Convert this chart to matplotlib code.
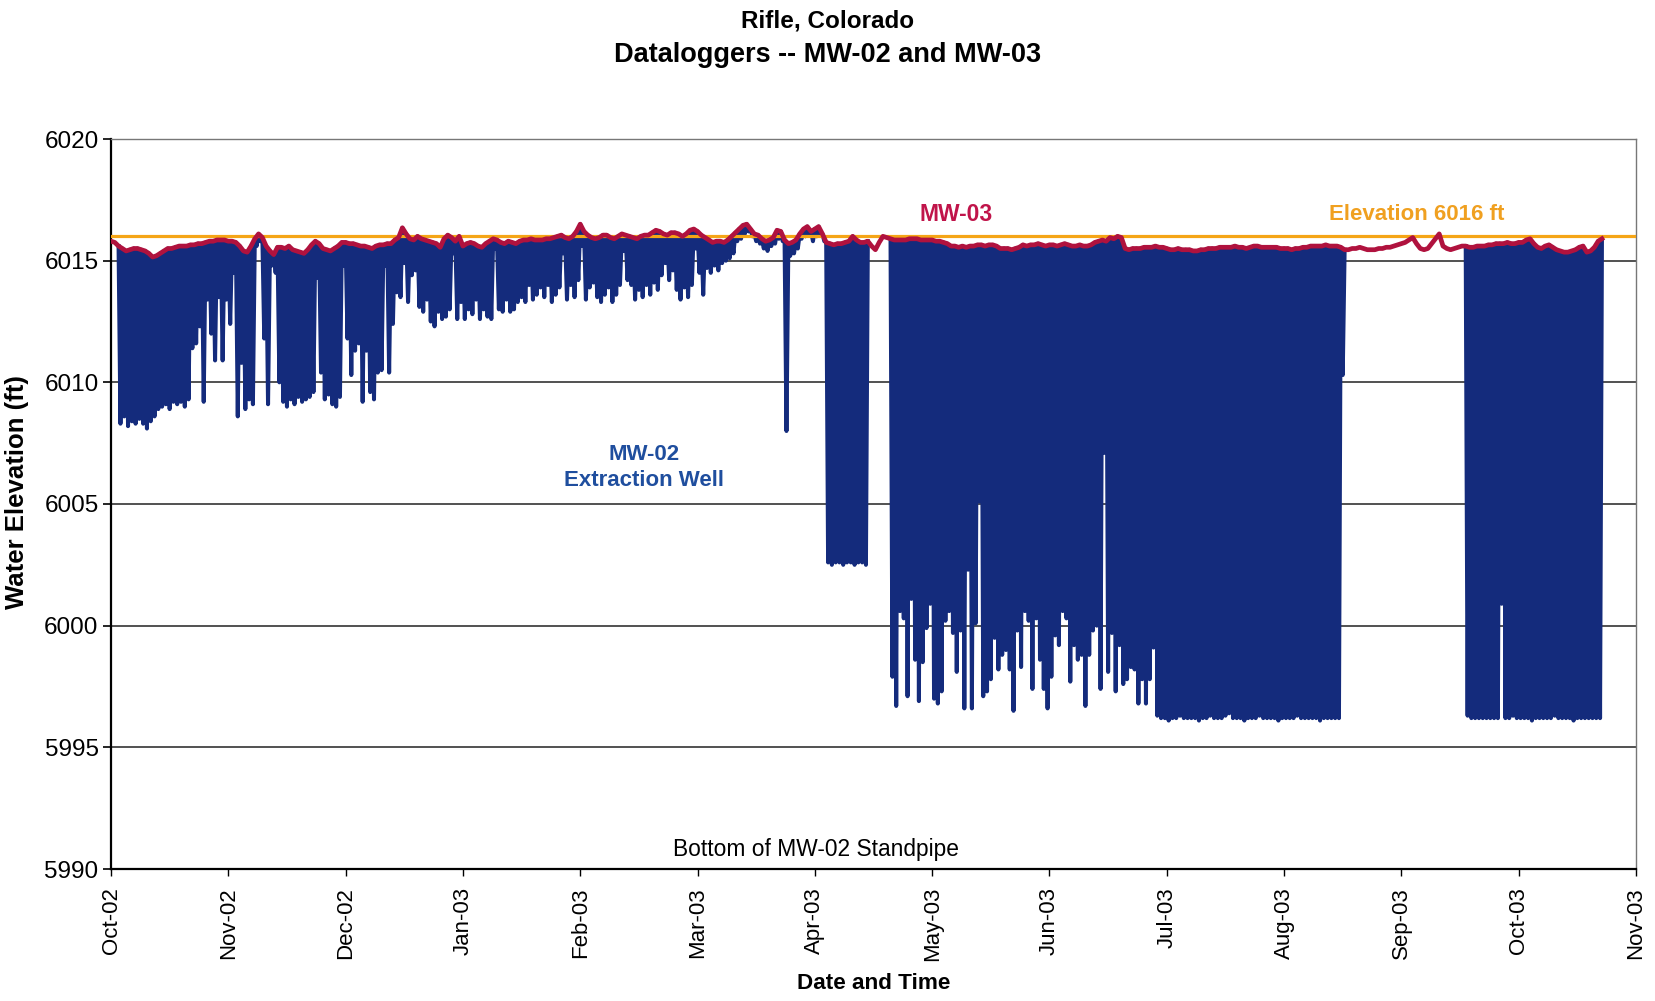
import numpy as np
import matplotlib
matplotlib.use("Agg")
import matplotlib.pyplot as plt
import matplotlib.dates as mdates

plt.rcParams['font.family'] = ['Liberation Sans', 'DejaVu Sans']

nan = np.nan

# ---------------- data ----------------
start_date = np.datetime64('2002-10-01')
tick_step_days = 31
tick_labels = ['Oct-02', 'Nov-02', 'Dec-02', 'Jan-03', 'Feb-03', 'Mar-03', 'Apr-03',
               'May-03', 'Jun-03', 'Jul-03', 'Aug-03', 'Sep-03', 'Oct-03', 'Nov-03']
y_ticks = [5990, 5995, 6000, 6005, 6010, 6015, 6020]
reference_elevation = 6016

# MW-03 daily water elevation (ft), day 0 = 1 Oct 2002
mw03_level = [
    6015.8, 6015.75, 6015.6, 6015.5, 6015.4, 6015.45, 6015.5, 6015.5, 6015.45, 6015.4,
    6015.3, 6015.15, 6015.2, 6015.3, 6015.4, 6015.5, 6015.5, 6015.55, 6015.6, 6015.6,
    6015.6, 6015.65, 6015.65, 6015.7, 6015.7, 6015.75, 6015.8, 6015.8, 6015.85, 6015.85,
    6015.85, 6015.8, 6015.8, 6015.75, 6015.6, 6015.4, 6015.35, 6015.6, 6015.9, 6016.1,
    6015.95, 6015.6, 6015.4, 6015.25, 6015.55, 6015.55, 6015.5, 6015.6, 6015.45, 6015.4,
    6015.35, 6015.3, 6015.45, 6015.65, 6015.8, 6015.7, 6015.5, 6015.45, 6015.4, 6015.5,
    6015.6, 6015.75, 6015.75, 6015.7, 6015.7, 6015.65, 6015.6, 6015.6, 6015.55, 6015.5,
    6015.6, 6015.65, 6015.65, 6015.7, 6015.7, 6015.85, 6015.95, 6016.35, 6016.1, 6015.9,
    6015.85, 6016.0, 6015.9, 6015.85, 6015.8, 6015.75, 6015.7, 6015.55, 6015.9, 6016.05,
    6015.95, 6015.8, 6016.0, 6015.6, 6015.7, 6015.75, 6015.7, 6015.6, 6015.55, 6015.7,
    6015.8, 6015.9, 6015.85, 6015.75, 6015.7, 6015.8, 6015.75, 6015.7, 6015.8, 6015.85,
    6015.85, 6015.9, 6015.85, 6015.85, 6015.85, 6015.9, 6015.9, 6015.95, 6016.0, 6016.05,
    6015.95, 6015.9, 6016.0, 6016.2, 6016.5, 6016.2, 6016.05, 6015.95, 6015.9, 6015.95,
    6016.05, 6016.05, 6015.95, 6015.9, 6016.0, 6016.1, 6016.05, 6016.0, 6015.95, 6015.9,
    6016.0, 6016.05, 6016.05, 6016.15, 6016.25, 6016.2, 6016.1, 6016.05, 6016.15, 6016.15,
    6016.1, 6016.0, 6016.1, 6016.25, 6016.3, 6016.2, 6016.05, 6015.95, 6015.85, 6015.75,
    6015.8, 6015.8, 6015.75, 6015.85, 6016.0, 6016.15, 6016.3, 6016.45, 6016.5, 6016.3,
    6016.1, 6016.05, 6015.9, 6015.8, 6015.85, 6015.95, 6016.25, 6016.2, 6015.85, 6015.7,
    6015.75, 6015.85, 6016.1, 6016.3, 6016.4, 6016.2, 6016.3, 6016.4, 6016.1, 6015.75,
    6015.7, 6015.65, 6015.7, 6015.7, 6015.75, 6015.8, 6016.0, 6015.85, 6015.75, 6015.75,
    6015.8, 6015.6, 6015.45, 6015.75, 6016.0, 6015.95, 6015.9, 6015.85, 6015.85, 6015.85,
    6015.85, 6015.9, 6015.9, 6015.9, 6015.85, 6015.85, 6015.85, 6015.85, 6015.8, 6015.8,
    6015.75, 6015.7, 6015.6, 6015.6, 6015.55, 6015.6, 6015.55, 6015.6, 6015.6, 6015.65,
    6015.65, 6015.6, 6015.65, 6015.65, 6015.6, 6015.5, 6015.5, 6015.5, 6015.45, 6015.5,
    6015.55, 6015.65, 6015.6, 6015.65, 6015.65, 6015.7, 6015.65, 6015.6, 6015.65, 6015.65,
    6015.6, 6015.65, 6015.7, 6015.65, 6015.6, 6015.6, 6015.65, 6015.6, 6015.6, 6015.65,
    6015.75, 6015.8, 6015.85, 6015.8, 6015.95, 6015.9, 6016.0, 6015.95, 6015.5, 6015.45,
    6015.5, 6015.5, 6015.5, 6015.55, 6015.55, 6015.55, 6015.6, 6015.55, 6015.55, 6015.5,
    6015.45, 6015.45, 6015.5, 6015.45, 6015.45, 6015.45, 6015.4, 6015.4, 6015.45, 6015.45,
    6015.5, 6015.5, 6015.5, 6015.55, 6015.55, 6015.55, 6015.55, 6015.6, 6015.55, 6015.55,
    6015.5, 6015.55, 6015.6, 6015.6, 6015.55, 6015.55, 6015.55, 6015.55, 6015.55, 6015.5,
    6015.5, 6015.5, 6015.45, 6015.5, 6015.5, 6015.55, 6015.55, 6015.6, 6015.6, 6015.6,
    6015.6, 6015.65, 6015.6, 6015.6, 6015.6, 6015.55, 6015.45, 6015.45, 6015.5, 6015.5,
    6015.55, 6015.5, 6015.45, 6015.45, 6015.45, 6015.5, 6015.5, 6015.55, 6015.55, 6015.6,
    6015.65, 6015.7, 6015.75, 6015.85, 6015.95, 6015.7, 6015.5, 6015.45, 6015.5, 6015.7,
    6015.9, 6016.1, 6015.6, 6015.5, 6015.45, 6015.5, 6015.55, 6015.6, 6015.6, 6015.55,
    6015.55, 6015.6, 6015.6, 6015.6, 6015.65, 6015.65, 6015.7, 6015.7, 6015.7, 6015.75,
    6015.7, 6015.7, 6015.75, 6015.75, 6015.85, 6015.9, 6015.7, 6015.55, 6015.5, 6015.6,
    6015.65, 6015.55, 6015.45, 6015.4, 6015.35, 6015.35, 6015.4, 6015.45, 6015.55, 6015.6,
    6015.35, 6015.4, 6015.55, 6015.8, 6015.9,
]

# MW-02 daily drawdown minimum (ft); peaks recover to the MW-03 level; nan = no record
mw02_low = [
    nan, nan, 6008.3, 6008.6, 6008.2, 6008.4, 6008.3, 6008.5, 6008.3, 6008.1,
    6008.4, 6008.6, 6008.9, 6009.0, 6009.1, 6008.9, 6009.2, 6009.1, 6009.2, 6009.0,
    6009.3, 6011.4, 6011.6, 6012.3, 6009.2, 6013.4, 6012.0, 6010.9, 6013.5, 6010.9,
    6013.4, 6012.4, 6014.5, 6008.6, 6010.8, 6008.9, 6009.3, 6009.1, 6015.6, 6015.8,
    6011.8, 6009.1, 6014.8, 6014.5, 6010.0, 6009.2, 6009.0, 6009.3, 6009.1, 6009.4,
    6009.2, 6009.3, 6009.4, 6009.6, 6014.3, 6010.4, 6009.3, 6009.5, 6009.1, 6009.0,
    6009.4, 6014.8, 6011.8, 6010.3, 6011.3, 6011.6, 6009.2, 6011.3, 6009.6, 6009.3,
    6010.4, 6010.5, 6014.8, 6010.4, 6012.4, 6013.7, 6013.5, 6014.9, 6013.3, 6014.4,
    6014.6, 6013.1, 6012.9, 6013.4, 6012.5, 6012.3, 6012.9, 6012.6, 6012.7, 6013.0,
    6015.3, 6012.6, 6013.3, 6012.6, 6013.0, 6012.8, 6013.4, 6012.6, 6013.0, 6012.7,
    6012.6, 6015.5, 6013.0, 6012.9, 6013.4, 6012.9, 6013.0, 6013.3, 6013.5, 6013.3,
    6014.0, 6013.4, 6013.6, 6013.9, 6013.5, 6014.0, 6013.3, 6013.6, 6013.9, 6015.3,
    6013.4, 6014.0, 6013.5, 6014.2, 6015.6, 6013.4, 6013.9, 6014.1, 6013.5, 6013.3,
    6013.6, 6013.9, 6013.3, 6013.6, 6014.0, 6015.4, 6014.2, 6014.0, 6013.4, 6013.8,
    6013.5, 6014.0, 6013.6, 6014.1, 6013.8, 6014.4, 6014.9, 6014.2, 6014.6, 6013.8,
    6013.4, 6013.9, 6013.5, 6014.0, 6015.5, 6014.5, 6013.6, 6014.7, 6014.5, 6014.8,
    6014.6, 6014.9, 6015.0, 6015.1, 6015.3, 6015.8, 6015.9, 6016.1, 6016.2, 6016.0,
    6015.8, 6015.7, 6015.5, 6015.4, 6015.6, 6015.7, 6015.9, 6015.8, 6008.0, 6015.2,
    6015.3, 6015.5, 6015.9, 6016.0, 6016.1, 6015.8, 6016.0, 6016.1, 6015.8, 6002.6,
    6002.5, 6002.6, 6002.6, 6002.5, 6002.6, 6002.6, 6002.5, 6002.6, 6002.6, 6002.5,
    nan, nan, nan, nan, nan, nan, 5997.9, 5996.7, 6000.6, 6000.3,
    5997.1, 6001.1, 5998.6, 5996.9, 5998.5, 5999.9, 6000.9, 5997.0, 5996.8, 5997.3,
    6000.2, 6000.6, 5999.7, 5998.1, 5999.8, 5996.6, 6002.3, 5996.6, 6000.1, 6005.1,
    5997.1, 5997.3, 5997.8, 5999.5, 5998.2, 5998.8, 5999.0, 5998.2, 5996.5, 5999.8,
    5998.3, 6000.6, 6000.2, 5997.4, 6000.3, 5998.6, 5997.4, 5996.6, 5997.9, 5999.6,
    5999.2, 6000.6, 6000.3, 5997.7, 5999.2, 5998.6, 5998.8, 5996.7, 5998.8, 5999.8,
    6000.0, 5997.4, 6007.1, 5998.1, 5999.7, 5997.3, 5999.2, 5997.6, 5997.8, 5998.3,
    5998.2, 5996.8, 5997.8, 5996.8, 5997.8, 5999.1, 5996.3, 5996.2, 5996.2, 5996.1,
    5996.2, 5996.2, 5996.3, 5996.2, 5996.2, 5996.2, 5996.2, 5996.1, 5996.2, 5996.2,
    5996.3, 5996.2, 5996.2, 5996.2, 5996.3, 5996.4, 5996.2, 5996.2, 5996.2, 5996.1,
    5996.2, 5996.2, 5996.2, 5996.3, 5996.2, 5996.2, 5996.2, 5996.2, 5996.1, 5996.2,
    5996.2, 5996.2, 5996.2, 5996.3, 5996.2, 5996.2, 5996.2, 5996.2, 5996.2, 5996.1,
    5996.2, 5996.2, 5996.2, 5996.2, 5996.2, 6010.3, nan, nan, nan, nan,
    nan, nan, nan, nan, nan, nan, nan, nan, nan, nan,
    nan, nan, nan, nan, nan, nan, nan, nan, nan, nan,
    nan, nan, nan, nan, nan, nan, nan, nan, 5996.3, 5996.2,
    5996.2, 5996.2, 5996.2, 5996.2, 5996.2, 5996.2, 5996.2, 6000.9, 5996.2, 5996.2,
    5996.3, 5996.2, 5996.2, 5996.2, 5996.2, 5996.1, 5996.2, 5996.2, 5996.2, 5996.2,
    5996.2, 5996.3, 5996.2, 5996.2, 5996.2, 5996.2, 5996.1, 5996.2, 5996.2, 5996.2,
    5996.2, 5996.2, 5996.2, 5996.2, nan,
]

# ---------------- build series ----------------
n_days = len(mw03_level)
mw03_x = start_date + np.arange(n_days).astype('timedelta64[D]')

t_hours, mw02_y = [], []
for d in range(n_days):
    lo = mw02_low[d]
    if np.isnan(lo):
        continue
    if d > 0 and np.isnan(mw02_low[d - 1]) and t_hours:
        t_hours.append(d * 24 - 1)
        mw02_y.append(nan)
    t_hours += [d * 24, d * 24 + 12]
    mw02_y += [mw03_level[d], lo]
    if d + 1 < n_days and np.isnan(mw02_low[d + 1]):
        t_hours.append((d + 1) * 24)
        mw02_y.append(mw03_level[d + 1])
mw02_x = start_date + np.array(t_hours).astype('timedelta64[h]')

tick_dates = start_date + (np.arange(len(tick_labels)) * tick_step_days).astype('timedelta64[D]')

# ---------------- figure ----------------
fig = plt.figure(figsize=(16.56, 10.01), dpi=100)
ax = fig.add_axes([111 / 1656, 1 - 869 / 1001, 1525 / 1656, 730 / 1001])

blue = '#142B7C'
crimson = '#B0123E'
orange = '#F5A516'

ax.plot(mw02_x, mw02_y, color=blue, lw=2.9, zorder=2, solid_joinstyle='round')
ax.axhline(reference_elevation, color=orange, lw=2.3, zorder=3)
ax.plot(mw03_x, mw03_level, color=crimson, lw=3.4, zorder=4)

ax.set_ylim(y_ticks[0], y_ticks[-1])
ax.set_yticks(y_ticks)
ax.set_xlim(tick_dates[0], tick_dates[-1])
ax.set_xticks(tick_dates)
ax.set_xticklabels(tick_labels, rotation=90, fontsize=16)
ax.tick_params(axis='y', labelsize=17.5, length=6, width=1.2, pad=3)
ax.tick_params(axis='x', length=5, width=1.0, pad=8)

ax.grid(axis='y', color='#222222', lw=1.1, zorder=1)
ax.set_axisbelow(True)
for s in ['left', 'bottom']:
    ax.spines[s].set_color('black')
    ax.spines[s].set_linewidth(1.6)
for s in ['top', 'right']:
    ax.spines[s].set_color('#777777')
    ax.spines[s].set_linewidth(1.0)

ax.set_ylabel('Water Elevation (ft)', fontsize=18.5, fontweight='bold')
ax.yaxis.set_label_coords(-0.0535, 0.517)
ax.set_xlabel('Date and Time', fontsize=16.2, fontweight='bold', labelpad=8)

fig.text(0.5, 1 - 21 / 1001, 'Rifle, Colorado', ha='center', va='center',
         fontsize=17.5, fontweight='bold')
fig.text(0.5, 1 - 55 / 1001, 'Dataloggers -- MW-02 and MW-03', ha='center', va='center',
         fontsize=19.5, fontweight='bold')


def dnum(day):
    return mdates.date2num(start_date + np.timedelta64(int(round(day * 24)), 'h'))


ax.text(dnum(223.3), 6016.9, 'MW-03', color='#C0144A', fontsize=16.5,
        fontweight='bold', ha='center', va='center', zorder=5)
ax.text(dnum(344.9), 6016.9, 'Elevation 6016 ft', color='#F0A020', fontsize=16,
        fontweight='bold', ha='center', va='center', zorder=5)
ax.text(dnum(140.9), 6006.5, 'MW-02\nExtraction Well', color='#1F4E9E', fontsize=16,
        fontweight='bold', ha='center', va='center', linespacing=1.3, zorder=5)
ax.text(dnum(186.3), 5990.8, 'Bottom of MW-02 Standpipe', color='black', fontsize=16.4,
        ha='center', va='center', zorder=5)

fig.savefig('out.png', dpi=100)
